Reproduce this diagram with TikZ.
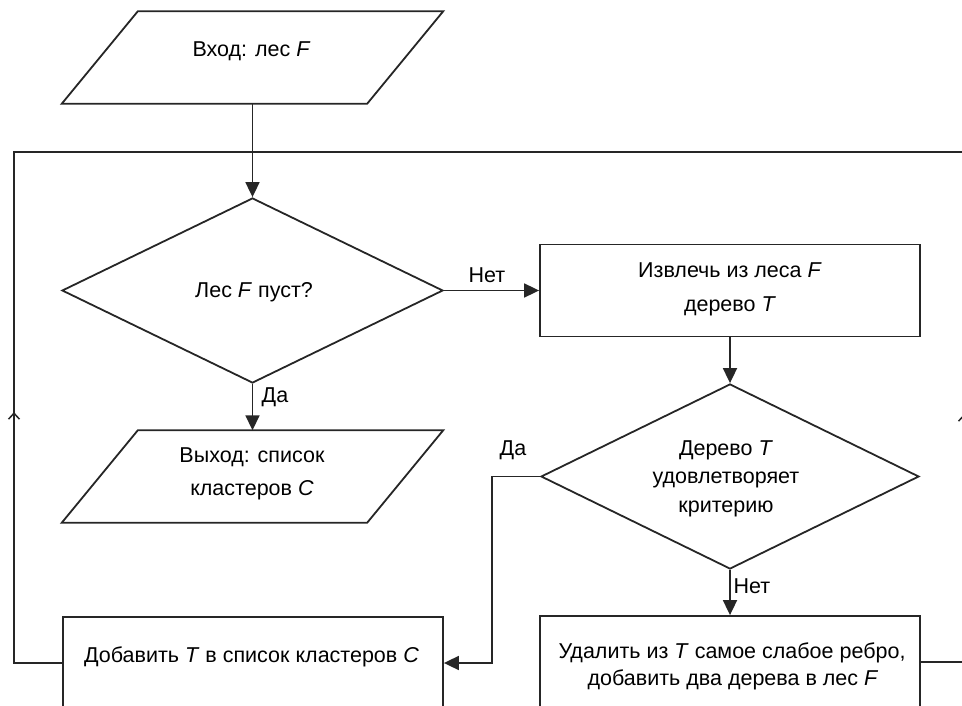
\documentclass[tikz,border=0pt]{standalone}
\usepackage{fontspec}
\setmainfont{Liberation Sans}
\usetikzlibrary{shapes.geometric,arrows.meta,decorations.markings,calc}
\begin{document}
\begin{tikzpicture}[x=1pt,y=-1pt,
  lw/.style={line width=1.8pt, draw=black!85},
  line/.style={lw, line join=miter},
  arr/.style={line, -{Triangle[length=15pt,width=14pt]}},
  proc/.style={lw, rectangle, minimum width=380pt, minimum height=92pt, inner sep=0pt},
  io/.style={rectangle, draw=none, minimum width=381pt, minimum height=92pt, inner sep=0pt},
  dec/.style={lw, diamond, inner sep=0pt, minimum width=381pt, minimum height=185pt},
  txt/.style={anchor=base, inner sep=0pt, font=\fontsize{21.5}{26}\selectfont, text=black},
  upmark/.style={postaction={decorate}, decoration={markings, mark=at position #1 with {\arrow{Straight Barb[length=6pt,width=11pt,line width=1.5pt]}}}},
]
\useasboundingbox (0,0) rectangle (962,706);

% shapes
\node[io] (in) at (252.5,57.5) {};
\draw[line] ($(in.north west)+(76,0)$) -- (in.north east) -- ($(in.south east)-(76,0)$) -- (in.south west) -- cycle;
\node[dec] (d1) at (252.5,290.5) {};
\node[proc] (ext) at (730,290.5) {};
\node[io] (out) at (252.5,476.5) {};
\draw[line] ($(out.north west)+(76,0)$) -- (out.north east) -- ($(out.south east)-(76,0)$) -- (out.south west) -- cycle;
\node[dec, minimum width=378pt] (d2) at (730,476.5) {};
\node[proc] (add) at (253,663) {};
\node[proc] (del) at (730,662) {};
\coordinate (topR) at (975,152);
\coordinate (topL) at (14,152);
\coordinate (rgt) at (964,152);

% connectors
\draw[arr] (in.south) -- (d1.north);
\draw[arr] (d1.east) -- (ext.west);
\draw[arr] (d1.south) -- (out.north);
\draw[arr] (ext.south) -- (d2.north);
\draw[arr] (d2.west) -- ++(-48,0) |- (add.east);
\draw[arr] (d2.south) -- (del.north);
\draw[line, upmark=299pt] (add.west) -| (topL) -- (topR);
\draw[line, upmark=291pt] (del.east) -| (rgt);

% texts
\node[txt] (tin) at (251.5,57) {Вход: лес \textit{F}};
\node[txt] (td1) at (254,297.5) {Лес \textit{F} пуст?};
\node[txt] (text1) at (730,277) {Извлечь из леса \textit{F}};
\node[txt] (text2) at (730,311) {дерево \textit{T}};
\node[txt] (tout1) at (252,462) {Выход: список};
\node[txt] (tout2) at (252,495) {кластеров \textit{C}};
\node[txt] (td2a) at (726,455) {Дерево \textit{T}};
\node[txt] (td2b) at (726,483) {удовлетворяет};
\node[txt] (td2c) at (726,512) {критерию};
\node[txt] (tadd) at (251.5,662) {Добавить \textit{T} в список кластеров \textit{C}};
\node[txt] (tdel1) at (732,658) {Удалить из \textit{T} самое слабое ребро,};
\node[txt] (tdel2) at (733,685) {добавить два дерева в лес \textit{F}};

% labels
\node[txt] (lNo1) at (487,282.5) {Нет};
\node[txt] (lYes1) at (275,402) {Да};
\node[txt] (lYes2) at (513,455) {Да};
\node[txt] (lNo2) at (752,593) {Нет};
\end{tikzpicture}
\end{document}
